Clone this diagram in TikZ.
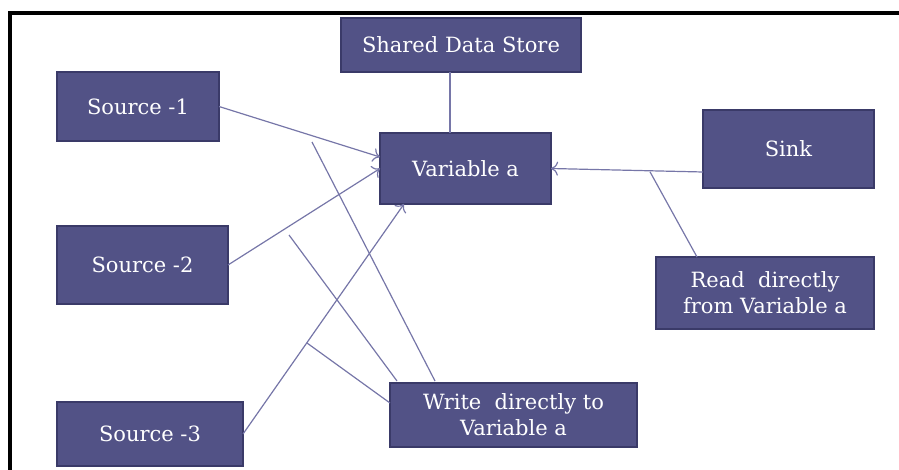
\documentclass[tikz,border=0pt]{standalone}
\usepackage{fontspec}
\setmainfont{DejaVu Serif}
\usetikzlibrary{positioning,arrows.meta}
\definecolor{boxfill}{RGB}{82,82,134}
\definecolor{boxline}{RGB}{58,58,104}
\definecolor{wire}{RGB}{118,118,168}
\begin{document}
\begin{tikzpicture}[
    x=0.5pt, y=-0.5pt,
    block/.style={rectangle, draw=boxline, line width=0.8pt, fill=boxfill, text=white, font=\fontsize{10.5}{13}\selectfont, align=center, inner sep=2pt, outer sep=0pt},
    link/.style={draw=wire, line width=0.6pt},
    feed/.style={link, -{To[length=3.5pt, width=7pt]}}
]
\useasboundingbox (0,0) rectangle (899,470);

% Frame
\draw[line width=2pt] (899,13) -- (10,13) -- (10,470);

% Store and variable
\node[block, minimum width=120pt, minimum height=27pt] (store) at (461,45) {Shared Data Store};
\node[block, minimum width=85.5pt, minimum height=35.5pt] (var) at (465.5,168.5) {Variable a};

% Sources
\node[block, minimum width=81pt, minimum height=34.5pt] (src1) at (138,106.5) {Source -1};
\node[block, minimum width=85.5pt, minimum height=39pt] (src2) at (142.5,265) {Source -2};
\node[block, minimum width=93pt, minimum height=32pt] (src3) at (150,434) {Source -3};

% Sink
\node[block, minimum width=85.5pt, minimum height=39pt] (sink) at (788.5,149) {Sink};

% Notes
\node[block, minimum width=109pt, minimum height=36pt] (read) at (765,293) {Read~ directly\\from Variable a};
\node[block, minimum width=123.5pt, minimum height=32pt] (write) at (513.5,415) {Write~ directly to\\Variable a};

% Free ends of the note lines
\coordinate (storex) at (450,0);
\coordinate (rtap) at (650,171.8);
\coordinate (wtap1) at (312,142);
\coordinate (wtap2) at (289,235);
\coordinate (wtap3) at (307,343);

% Store to variable
\draw[link] (store.south -| storex) -- (var.north -| storex);

% Sources to variable
\draw[feed] (src1.east) -- ([yshift=5.75pt]var.west);
\draw[feed] (src2.east) -- (var.west);
\draw[feed] (src3.east) -- ([xshift=12pt]var.south west);

% Sink reads variable
\draw[feed] ([yshift=-11.5pt]sink.west) -- (var.east);

% Note lines
\draw[link] ([xshift=20.5pt]read.north west) -- (rtap);
\draw[link] ([xshift=22.5pt,yshift=1pt]write.north west) -- (wtap1);
\draw[link] ([xshift=3.5pt,yshift=1pt]write.north west) -- (wtap2);
\draw[link] ([yshift=6pt]write.west) -- (wtap3);
\end{tikzpicture}
\end{document}
